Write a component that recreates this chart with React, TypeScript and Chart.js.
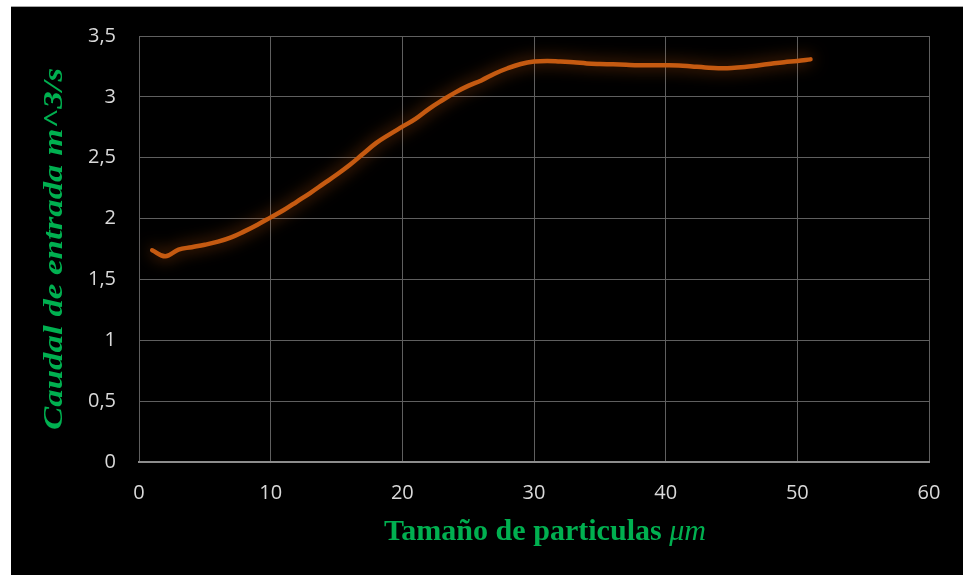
import React, { useEffect, useRef } from "react";
import { Chart, registerables } from "chart.js";

Chart.register(...registerables);

const sizes: number[] = [
  1, 2, 3, 4, 5, 6, 7, 8, 9, 10, 11, 12, 13, 14, 15, 16, 17, 18, 19, 20, 21, 22, 23, 24, 25, 26,
  27, 28, 29, 30, 31, 32, 33, 34, 35, 36, 37, 38, 39, 40, 41, 42, 43, 44, 45, 46, 47, 48, 49, 50, 51,
];
const flows: number[] = [
  1.74, 1.69, 1.745, 1.765, 1.785, 1.81, 1.845, 1.895, 1.95, 2.01, 2.07, 2.14, 2.21, 2.285, 2.36,
  2.44, 2.53, 2.62, 2.69, 2.755, 2.82, 2.9, 2.97, 3.035, 3.09, 3.135, 3.19, 3.235, 3.27, 3.29,
  3.295, 3.29, 3.285, 3.275, 3.27, 3.267, 3.263, 3.26, 3.26, 3.26, 3.258, 3.25, 3.242, 3.236,
  3.237, 3.245, 3.258, 3.272, 3.285, 3.295, 3.308,
];
const xTitleMain = "Tamaño de particulas ";
const xTitleUnit = "μm";
const yTitle = "Caudal de entrada m^3/s";

const GREEN = "#00B050";

const backgroundPlugin = {
  id: "bg",
  beforeDraw(chart: any) {
    const { ctx, width, height } = chart;
    ctx.save();
    ctx.fillStyle = "#ffffff";
    ctx.fillRect(0, 0, width, height);
    ctx.fillStyle = "#000000";
    ctx.fillRect(11, 7, width - 11, height - 7);
    ctx.strokeStyle = "#a6a6a6";
    ctx.lineWidth = 1;
    ctx.beginPath();
    ctx.moveTo(11, 6.5);
    ctx.lineTo(width, 6.5);
    ctx.stroke();
    ctx.restore();
  },
};

const glowPlugin = {
  id: "glow",
  beforeDatasetDraw(chart: any) {
    const ctx = chart.ctx;
    ctx.save();
    ctx.shadowColor = "rgba(197, 90, 17, 0.75)";
    ctx.shadowBlur = 16;
  },
  afterDatasetDraw(chart: any) {
    chart.ctx.restore();
  },
};

const titlesPlugin = {
  id: "titles",
  afterDraw(chart: any) {
    const ctx = chart.ctx;
    ctx.save();
    ctx.fillStyle = GREEN;
    // X title
    const fMain = "bold 28px 'Liberation Serif', 'Times New Roman', serif";
    const fUnit = "italic 28px 'Liberation Serif', 'Times New Roman', serif";
    ctx.font = fMain;
    const w1 = ctx.measureText(xTitleMain).width;
    ctx.font = fUnit;
    const w2 = ctx.measureText(xTitleUnit).width;
    const total = w1 + w2;
    const targetW = 322;
    const sx = targetW / total;
    const cx = 545;
    ctx.save();
    ctx.translate(cx - targetW / 2, 540);
    ctx.scale(sx, 1.05);
    ctx.textBaseline = "alphabetic";
    ctx.textAlign = "left";
    ctx.font = fMain;
    ctx.fillText(xTitleMain, 0, 0);
    ctx.font = fUnit;
    ctx.fillText(xTitleUnit, w1, 0);
    ctx.restore();

    // Y title
    const fy = "italic bold 28px 'Liberation Serif', 'Times New Roman', serif";
    ctx.font = fy;
    const wy = ctx.measureText(yTitle).width;
    const targetY = 362;
    ctx.save();
    ctx.translate(62, 249);
    ctx.rotate(-Math.PI / 2);
    ctx.scale(targetY / wy, 1);
    ctx.textAlign = "center";
    ctx.textBaseline = "alphabetic";
    ctx.fillText(yTitle, 0, 0);
    ctx.restore();
    ctx.restore();
  },
};

export default function App() {
  const ref = useRef<HTMLCanvasElement | null>(null);

  useEffect(() => {
    if (!ref.current) return;
    const chart = new Chart(ref.current, {
      type: "line",
      data: {
        labels: sizes,
        datasets: [
          {
            data: sizes.map((x, i) => ({ x, y: flows[i] })),
            borderColor: "#C55A11",
            borderWidth: 4.5,
            pointRadius: 0,
            tension: 0.4,
            borderCapStyle: "round",
            borderJoinStyle: "round",
            fill: false,
          },
        ],
      },
      options: {
        animation: false,
        responsive: false,
        maintainAspectRatio: false,
        layout: { padding: { left: 0, top: 36, right: 34, bottom: 0 } },
        plugins: {
          legend: { display: false },
          tooltip: { enabled: false },
          title: { display: false },
        },
        scales: {
          x: {
            type: "linear",
            min: 0,
            max: 60,
            ticks: {
              stepSize: 10,
              color: "#d9d9d9",
              font: { family: "'Open Sans', sans-serif", size: 20 },
              padding: 19,
              maxRotation: 0,
            },
            grid: { color: "#5f5f5f", lineWidth: 1, drawTicks: false },
            border: { color: "#8c8c8c", width: 2 },
            afterFit: (scale: any) => {
              scale.height = 113;
            },
          },
          y: {
            min: 0,
            max: 3.5,
            ticks: {
              stepSize: 0.5,
              color: "#d9d9d9",
              font: { family: "'Open Sans', sans-serif", size: 20 },
              padding: 23,
              callback: (v: any) => String(v).replace(".", ","),
            },
            grid: { color: "#5f5f5f", lineWidth: 1, drawTicks: false },
            border: { display: false },
            afterFit: (scale: any) => {
              scale.width = 139;
            },
          },
        },
      },
      plugins: [backgroundPlugin, glowPlugin, titlesPlugin],
    } as any);
    return () => chart.destroy();
  }, []);

  return (
    <div style={{ position: "absolute", left: 0, top: 0, width: 963, height: 575 }}>
      <canvas ref={ref} width={963} height={575} style={{ display: "block", width: 963, height: 575 }} />
    </div>
  );
}
